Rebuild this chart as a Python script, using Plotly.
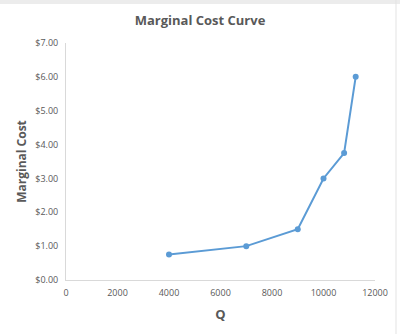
import plotly.graph_objects as go

# Quantity produced and marginal cost at each level
quantity = [4000, 7000, 9000, 10000, 10800, 11250]
marginal_cost = [0.75, 1.00, 1.50, 3.00, 3.75, 6.00]

x_ticks = [0, 2000, 4000, 6000, 8000, 10000, 12000]
y_ticks = [0, 1, 2, 3, 4, 5, 6, 7]

FONT = "Open Sans, Liberation Sans, sans-serif"
TEXT_GRAY = "#595959"
AXIS_GRAY = "#d9d9d9"

fig = go.Figure()
fig.add_trace(go.Scatter(
    x=quantity,
    y=marginal_cost,
    mode="lines+markers",
    line=dict(color="#5b9bd5", width=2),
    marker=dict(color="#5b9bd5", size=6),
    showlegend=False,
))

fig.update_layout(
    width=400,
    height=334,
    margin=dict(l=66, r=25, t=43, b=54),
    paper_bgcolor="white",
    plot_bgcolor="white",
    title=dict(
        text="<b>Marginal Cost Curve</b>",
        x=0.5, xanchor="center",
        y=1 - 20 / 334, yanchor="middle",
        font=dict(family=FONT, size=13, color=TEXT_GRAY),
    ),
    xaxis=dict(
        range=[0, 12000],
        tickvals=x_ticks,
        ticktext=[str(v) for v in x_ticks],
        showgrid=False,
        zeroline=False,
        showline=True,
        linecolor=AXIS_GRAY,
        linewidth=1,
        ticks="",
        ticklabelstandoff=4,
        tickfont=dict(family=FONT, size=9, color=TEXT_GRAY),
        title=dict(text="<b>Q</b>", standoff=12,
                   font=dict(family=FONT, size=13, color=TEXT_GRAY)),
    ),
    yaxis=dict(
        range=[0, 7],
        tickvals=y_ticks,
        ticktext=[f"${v:.2f}" for v in y_ticks],
        showgrid=False,
        zeroline=False,
        showline=True,
        linecolor=AXIS_GRAY,
        linewidth=1,
        ticks="",
        ticklabelstandoff=5,
        tickfont=dict(family=FONT, size=9, color=TEXT_GRAY),
        title=dict(text="<b>Marginal Cost</b>", standoff=6,
                   font=dict(family=FONT, size=12, color=TEXT_GRAY)),
    ),
    shapes=[
        # spreadsheet header band above the chart
        dict(type="rect", xref="paper", yref="paper",
             x0=-66 / 309, x1=1 + 25 / 309, y0=1 + 39 / 237, y1=1 + 43 / 237,
             fillcolor="#ececec", line=dict(width=0), layer="below"),
        # chart frame edge on the right
        dict(type="line", xref="paper", yref="paper",
             x0=1 + 21 / 309, x1=1 + 21 / 309, y0=-54 / 237, y1=1 + 43 / 237,
             line=dict(color="#e3e3e3", width=1)),
    ],
)

fig.write_html("out.html")
